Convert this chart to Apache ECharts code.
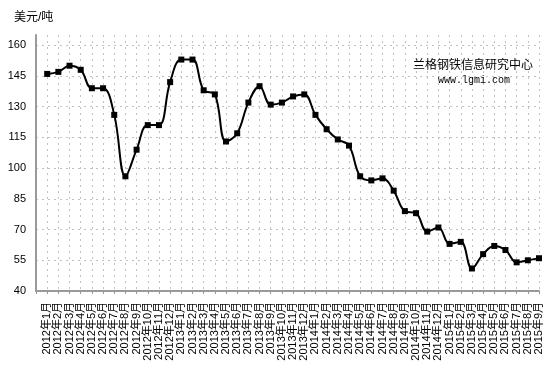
<!DOCTYPE html>
<html>
<head>
<meta charset="utf-8">
<script src="https://cdn.jsdelivr.net/npm/echarts@6/dist/echarts.min.js"></script>
<style>
html,body{margin:0;padding:0;background:#fff;}
#main{width:553px;height:371px;}
</style>
</head>
<body>
<div id="main"></div>
<script>
var categories = [
  '2012年1月','2012年2月','2012年3月','2012年4月','2012年5月','2012年6月','2012年7月','2012年8月','2012年9月','2012年10月','2012年11月','2012年12月',
  '2013年1月','2013年2月','2013年3月','2013年4月','2013年5月','2013年6月','2013年7月','2013年8月','2013年9月','2013年10月','2013年11月','2013年12月',
  '2014年1月','2014年2月','2014年3月','2014年4月','2014年5月','2014年6月','2014年7月','2014年8月','2014年9月','2014年10月','2014年11月','2014年12月',
  '2015年1月','2015年2月','2015年3月','2015年4月','2015年5月','2015年6月','2015年7月','2015年8月','2015年9月'
];
var prices = [
  146,147,150,148,139,139,126,96,109,121,121,142,
  153,153,138,136,113,117,132,140,131,132,135,136,
  126,119,114,111,96,94,95,89,79,78,69,71,
  63,64,51,58,62,60,54,55,56
];
var yMin = 40, yMax = 165, yInterval = 15;
var yUnit = '美元/吨';
var brandName = '兰格钢铁信息研究中心';
var brandUrl = 'www.lgmi.com';

var chart = echarts.init(document.getElementById('main'), null, {renderer:'canvas'});
var fontCJK = '"Liberation Sans","Noto Sans CJK SC",sans-serif';
chart.setOption({
  animation: false,
  backgroundColor: '#fff',
  title: [
    {text: yUnit, left: 9, top: 7, textStyle:{fontSize:12, fontWeight:'normal', color:'#000', fontFamily:fontCJK}},
    {text: brandName, left: 408, top: 53, textStyle:{fontSize:12, fontWeight:'normal', color:'#000', fontFamily:'"Noto Sans CJK SC",sans-serif'}},
    {text: brandUrl, left: 433, top: 70, textStyle:{fontSize:10, fontWeight:'normal', color:'#000', fontFamily:'"Liberation Mono",monospace'}}
  ],
  grid: {left: 36, right: 14, top: 35, bottom: 80, containLabel: false},
  xAxis: {
    type: 'category',
    boundaryGap: false,
    data: [''].concat(categories),
    axisLine: {lineStyle:{color:'#999', width:2}},
    axisTick: {show:true, interval:0, length:3, lineStyle:{color:'#999'}},
    axisLabel: {interval:0, rotate:90, margin:11, fontSize:11, color:'#000', fontFamily:fontCJK},
    splitLine: {show:true, interval:0, lineStyle:{color:'#c0c0c0', type:[2,4], width:1}}
  },
  yAxis: {
    type: 'value',
    min: yMin, max: yMax, interval: yInterval,
    axisLine: {show:true, lineStyle:{color:'#999', width:2}},
    axisTick: {show:false},
    axisLabel: {showMaxLabel:false, margin:10, fontSize:11, color:'#000', fontFamily:'"Liberation Sans",sans-serif'},
    splitLine: {show:true, showMaxLine:false, lineStyle:{color:'#c0c0c0', type:[2,4], width:1}}
  },
  series: [{
    type: 'line',
    data: [null].concat(prices),
    smooth: 0.4,
    symbol: 'rect',
    symbolSize: 6,
    showAllSymbol: true,
    lineStyle: {color:'#000', width:2},
    itemStyle: {color:'#000'}
  }]
});
</script>
</body>
</html>
